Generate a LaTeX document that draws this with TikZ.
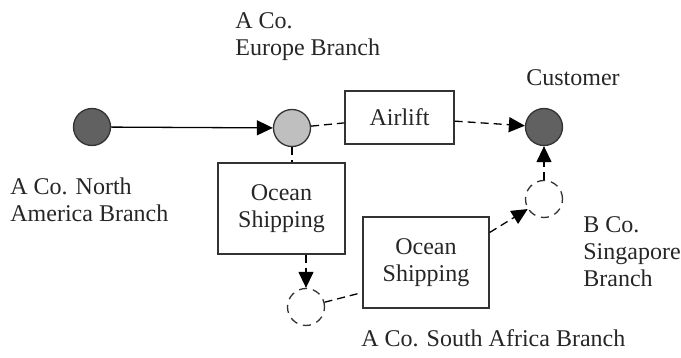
\documentclass[tikz,border=0pt]{standalone}
\usepackage{fontspec}
\setmainfont{Liberation Serif}
\usetikzlibrary{arrows.meta}
\begin{document}
\begin{tikzpicture}[x=0.5pt,y=-0.5pt,
	font=\fontsize{12}{13.5}\selectfont, text=black!85,
	site/.style={circle,draw=black!80,line width=0.65pt,minimum size=18.5pt,inner sep=0pt},
	hub/.style={site,fill=black!62},
	branch/.style={site,fill=black!25},
	empty/.style={site,dash pattern=on 4pt off 3pt},
	mode/.style={draw=black!80,line width=0.65pt,align=center,inner sep=0pt},
	lbl/.style={align=left,anchor=west,inner sep=0pt},
	tip/.style={-{Triangle[length=8pt,width=7.5pt]}},
	route/.style={line width=0.65pt,dash pattern=on 4pt off 2.5pt}]
	\useasboundingbox (0,0) rectangle (681,358);
	\node[hub] (na) at (92,127) {};
	\node[branch] (eu) at (292,128) {};
	\node[hub] (cust) at (544,127) {};
	\node[empty] (sg) at (544,199) {};
	\node[empty] (sa) at (306,307) {};
	
	\node[mode,minimum width=54.5pt,minimum height=26.5pt] (air) at (399.5,117.5) {Airlift};
	\node[mode,minimum width=63.5pt,minimum height=45.5pt] (sea1) at (281.5,208.5) {Ocean\\Shipping};
	\node[mode,minimum width=63pt,minimum height=45.5pt] (sea2) at (426,262.5) {Ocean\\Shipping};
	
	\node[lbl] (euname) at (235,37) {A Co.\\Europe Branch};
	\node[lbl] (custname) at (526,78) {Customer};
	\node[lbl] (naname) at (10,200) {A Co. North\\America Branch};
	\node[lbl] (sgname) at (583,252) {B Co.\\Singapore\\Branch};
	\node[lbl] (saname) at (361,338) {A Co. South Africa Branch};
	
	\draw[tip,line width=0.65pt] (na) -- (eu);
	\draw[route] (eu) -- (air);
	\draw[route,tip] (air) -- (cust);
	\draw[route] (eu) -- (eu |- sea1.north);
	\draw[route,tip] (sa |- sea1.south) -- (sa);
	\draw[route] (sa) -- ([yshift=-15pt]sea2.west);
	\draw[route,tip] ([yshift=15pt]sea2.east) -- (sg);
	\draw[route,tip] (sg) -- (cust);
\end{tikzpicture}
\end{document}
